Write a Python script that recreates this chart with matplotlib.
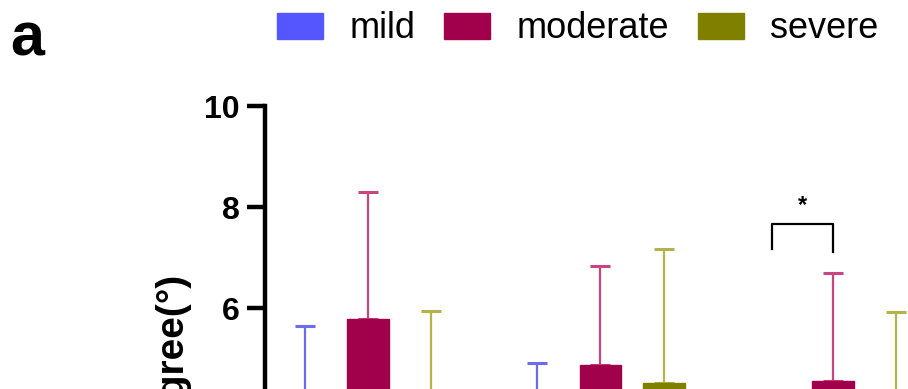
import numpy as np
import matplotlib
matplotlib.use("Agg")
import matplotlib.pyplot as plt
from matplotlib.patches import Patch

plt.rcParams["font.family"] = ["Liberation Sans Narrow", "Liberation Sans", "DejaVu Sans"]

groups = [0, 1, 2]
severity = ["mild", "moderate", "severe"]
means = {
    "mild": [4.0, 3.9, 3.1],
    "moderate": [5.78, 4.87, 4.55],
    "severe": [4.2, 4.51, 4.1],
}
sds = {
    "mild": [1.64, 1.01, 1.1],
    "moderate": [2.52, 1.96, 2.14],
    "severe": [1.74, 2.66, 1.82],
}
bar_colors = {"mild": "#5656ff", "moderate": "#a1004b", "severe": "#808000"}
err_colors = {"mild": "#6c6cee", "moderate": "#c9457f", "severe": "#b3b34a"}

fig = plt.figure(figsize=(9.08, 3.89), dpi=100)
# axes runs from 0 to 10; lower part falls outside the canvas
ax = fig.add_axes([265 / 908, 1 - 611 / 389, 1 - 265 / 908, 505 / 389])

offset = 0.273
width = 0.18
x = np.array(groups, dtype=float)
for i, s in enumerate(severity):
    xs = x + (i - 1) * offset
    ax.bar(xs, means[s], width=width, color=bar_colors[s], edgecolor=bar_colors[s], zorder=2)
    ax.errorbar(xs, means[s], yerr=[np.zeros(3), sds[s]], fmt="none",
                ecolor=err_colors[s], elinewidth=1.6, capsize=7.5, capthick=2.2, zorder=1)

# significance bracket between mild and moderate in the third group
x1, x2 = 2 - offset + 0.01, 2.0
ax.plot([x1, x1, x2, x2], [7.17, 7.66, 7.66, 7.11], color="black", lw=1.6, clip_on=False)
ax.text((x1 + x2) / 2, 8.02, "*", ha="center", va="center", fontsize=17, fontweight="bold")

ax.set_xlim(-0.443, 2.323)
ax.set_ylim(0, 10)
ax.set_yticks([0, 2, 4, 6, 8, 10])
ax.set_xticks([])
for side in ["top", "right", "bottom"]:
    ax.spines[side].set_visible(False)
ax.spines["left"].set_linewidth(3.2)
ax.tick_params(axis="y", length=13, width=3.2, labelsize=23, pad=5)
for lab in ax.get_yticklabels():
    lab.set_fontweight("bold")
ax.set_ylabel("Degree(°)", fontsize=28, fontweight="bold")
ax.yaxis.set_label_coords(-0.117, 0.5)

handles = [Patch(facecolor=bar_colors[s], edgecolor=bar_colors[s]) for s in severity]
fig.legend(handles, severity, loc="center left", bbox_to_anchor=(277 / 908, 1 - 29 / 389),
           ncol=3, frameon=False, fontsize=26, handlelength=1.28, handleheight=0.72,
           handletextpad=0.72, columnspacing=0.8, borderaxespad=0, borderpad=0)

fig.text(10 / 908, 1 - 40 / 389, "a", fontsize=44, fontweight="bold", va="center", ha="left")

fig.savefig("out.png", dpi=100)
